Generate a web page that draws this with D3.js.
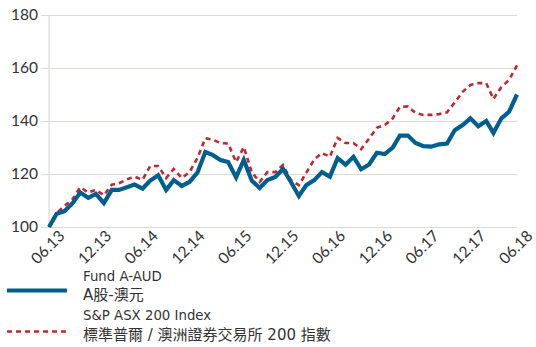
<!DOCTYPE html>
<html>
<head>
<meta charset="utf-8">
<script src="https://cdn.jsdelivr.net/npm/d3@7"></script>
<style>
  html, body { margin: 0; padding: 0; background: #fff; }
  svg { display: block; }
  .axis text { font-family: Lato, sans-serif; }
  .legend text { font-family: "DejaVu Sans", "Noto Sans CJK TC", sans-serif; }
</style>
</head>
<body>
<svg id="chart" width="536" height="347"></svg>
<script>
// Monthly index values, rebased to 100 at June 2013
const startMonth = new Date(2013, 5, 1);
const fundValues = [
  100, 105, 106, 109, 113, 111, 112.5, 109, 114, 114, 115, 116,
  114.5, 117.5, 119.5, 114, 117.7, 115.5, 117, 120.5, 128.3, 127.2, 125.3, 124.5,
  118.7, 125.3, 117.5, 114.7, 117.7, 118.9, 121.9, 117, 111.7, 115.8, 117.7, 120.7,
  119, 126, 123.5, 126.5, 121.8, 123.6, 128, 127.5, 130, 134.5, 134.5, 131.7,
  130.5, 130.3, 131.2, 131.5, 136.5, 138.5, 141, 138, 140, 135.5, 141, 143.5,
  150
];
const indexValues = [
  100, 105.3, 108, 110.5, 115, 113, 114, 112, 116, 116.5, 118, 119,
  117.8, 123, 123, 118.5, 121.9, 118.5, 120.7, 126, 133.5, 133, 131.7, 131.5,
  124.5, 130.2, 120.7, 117, 120.7, 120.7, 123.4, 117.7, 115.8, 120.5, 125.5, 127.9,
  126.5, 133.6, 131.7, 131.7, 129.4, 133.4, 137.4, 138.5, 141, 145.3, 145.5, 143,
  142.3, 142.3, 142.6, 143.3, 147, 151, 153.6, 154.3, 154.3, 148.3, 152.8, 155.5,
  161
];
const yTicks = [100, 120, 140, 160, 180];
const xTickStep = 6; // label every six months: 06.13, 12.13, ... 06.18
const seriesNames = [
  ["Fund A-AUD", "A股-澳元"],
  ["S&P ASX 200 Index", "標準普爾 / 澳洲證券交易所 200 指數"]
];

const months = fundValues.map((_, i) => d3.timeMonth.offset(startMonth, i));

const svg = d3.select("#chart");
const plotLeft = 49, plotRight = 517, plotTop = 15, plotBottom = 227;

const x = d3.scaleTime()
  .domain([months[0], months[months.length - 1]])
  .range([plotLeft, plotRight]);
const y = d3.scaleLinear().domain([100, 180]).range([plotBottom, plotTop]);

// Horizontal gridlines and y labels
const yAxis = svg.append("g")
  .attr("class", "axis")
  .attr("transform", `translate(${plotLeft},0)`)
  .call(d3.axisLeft(y).tickValues(yTicks).tickSize(0).tickPadding(11));
yAxis.select(".domain").remove();
yAxis.selectAll(".tick line")
  .attr("x1", -8).attr("x2", plotRight - plotLeft)
  .attr("stroke", "#dcd9d4").attr("stroke-width", 1.2);
yAxis.selectAll(".tick text")
  .attr("fill", "#333")
  .style("font-size", "15.5px");

// Left axis line
svg.append("line")
  .attr("x1", plotLeft).attr("x2", plotLeft)
  .attr("y1", plotTop).attr("y2", plotBottom)
  .attr("stroke", "#dcd9d4").attr("stroke-width", 1.2);

// X axis labels
const xTicks = d3.range(0, months.length, xTickStep).map(i => months[i]);
const xAxis = svg.append("g")
  .attr("class", "axis")
  .attr("transform", `translate(0,${plotBottom})`)
  .call(d3.axisBottom(x).tickValues(xTicks).tickFormat(d3.timeFormat("%m.%y")).tickSize(0));
xAxis.select(".domain").remove();
xAxis.selectAll(".tick text")
  .attr("fill", "#333")
  .style("font-size", "15.5px")
  .attr("text-anchor", "middle")
  .attr("dy", null)
  .attr("y", 0)
  .attr("transform", "translate(2,24) rotate(-45)");

// Series lines
const line = d3.line()
  .x((d, i) => x(months[i]))
  .y(d => y(d));

svg.append("path")
  .datum(indexValues)
  .attr("fill", "none")
  .attr("stroke", "#c1272d")
  .attr("stroke-width", 2.6)
  .attr("stroke-dasharray", "5,4")
  .attr("d", line);

svg.append("path")
  .datum(fundValues)
  .attr("fill", "none")
  .attr("stroke", "#005f8e")
  .attr("stroke-width", 4.2)
  .attr("stroke-linejoin", "miter")
  .attr("d", line);

// Legend
const legend = svg.append("g").attr("class", "legend");
const legendRows = [
  { color: "#005f8e", width: 4.2, dash: null, swatchY: 290.5, textY: [280.5, 300] },
  { color: "#c1272d", width: 2.6, dash: "5,4", swatchY: 331.5, textY: [320, 339.5] }
];
legendRows.forEach((r, i) => {
  legend.append("line")
    .attr("x1", 7).attr("x2", 67)
    .attr("y1", r.swatchY).attr("y2", r.swatchY)
    .attr("stroke", r.color)
    .attr("stroke-width", r.width)
    .attr("stroke-dasharray", r.dash);
  seriesNames[i].forEach((t, j) => {
    legend.append("text")
      .attr("x", 83).attr("y", r.textY[j])
      .attr("fill", "#333")
      .style("font-size", j === 0 ? "13.3px" : "15px")
      .text(t);
  });
});
</script>
</body>
</html>
